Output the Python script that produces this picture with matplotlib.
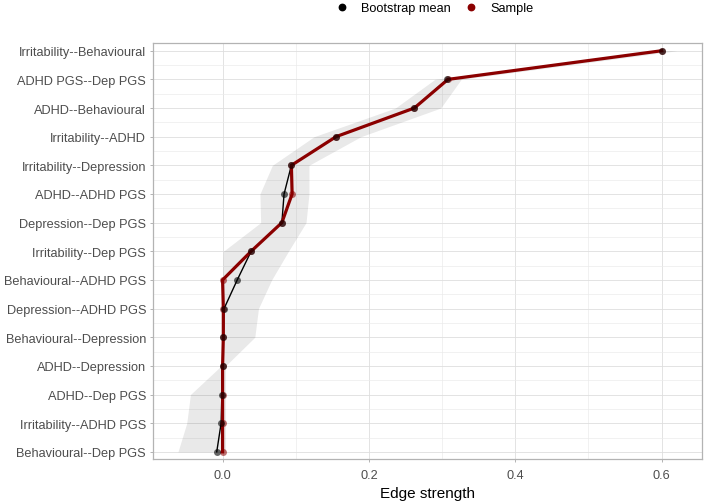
import numpy as np
import matplotlib
matplotlib.use("Agg")
import matplotlib.pyplot as plt
from matplotlib.lines import Line2D

plt.rcParams['font.family'] = ['Liberation Sans', 'DejaVu Sans']

# edges, top to bottom as in the reference
edges = ['Irritability--Behavioural', 'ADHD PGS--Dep PGS', 'ADHD--Behavioural',
         'Irritability--ADHD', 'Irritability--Depression', 'ADHD--ADHD PGS',
         'Depression--Dep PGS', 'Irritability--Dep PGS', 'Behavioural--ADHD PGS',
         'Depression--ADHD PGS', 'Behavioural--Depression', 'ADHD--Depression',
         'ADHD--Dep PGS', 'Irritability--ADHD PGS', 'Behavioural--Dep PGS']
boot_mean = [0.600, 0.307, 0.262, 0.155, 0.094, 0.084, 0.081, 0.039, 0.020,
             0.002, 0.001, 0.000, -0.001, -0.002, -0.008]
sample = [0.600, 0.308, 0.262, 0.155, 0.094, 0.095, 0.081, 0.039, 0.000,
          0.001, 0.001, 0.000, 0.000, 0.000, 0.000]
ci_lower = [0.592, 0.290, 0.236, 0.125, 0.068, 0.051, 0.052, 0.001, 0.000,
            0.000, 0.000, -0.002, -0.044, -0.049, -0.061]
ci_upper = [0.621, 0.326, 0.298, 0.189, 0.118, 0.118, 0.114, 0.090, 0.067,
            0.049, 0.044, 0.004, 0.004, 0.004, 0.004]

red = '#8B0000'
y = np.arange(len(edges))

fig = plt.figure(figsize=(7.09, 5.02), dpi=100)
ax = fig.add_axes([153 / 709, 1 - 460 / 502, 549 / 709, 416 / 502])

ax.fill_betweenx(y, ci_lower, ci_upper, color='black', alpha=0.085, lw=0, zorder=1)
ax.plot(boot_mean, y, color='black', lw=1.0, zorder=2)
ax.plot(sample, y, color=red, lw=2.3, zorder=3)
ax.plot(sample, y, 'o', color=red, ms=5.0, alpha=0.55, mew=0, zorder=4)
ax.plot(boot_mean, y, 'o', color='black', ms=5.0, alpha=0.6, mew=0, zorder=5)

lo = min(ci_lower)
hi = max(ci_upper)
pad = (hi - lo) * 0.05
ax.set_xlim(lo - pad, hi + pad)
ax.set_ylim(len(edges) - 1 + 0.25, -0.27)

ax.set_xticks([0.0, 0.2, 0.4, 0.6])
ax.set_xticklabels(['0.0', '0.2', '0.4', '0.6'])
ax.set_xticks([0.1, 0.3, 0.5], minor=True)
ax.set_yticks(y)
ax.set_yticklabels(edges)
ax.set_yticks(y[:-1] + 0.5, minor=True)

ax.grid(which='major', color='#DEDEDE', lw=0.6, zorder=0)
ax.grid(which='minor', color='#EBEBEB', lw=0.5, zorder=0)
ax.set_axisbelow(True)
for s in ax.spines.values():
    s.set_color('#B3B3B3')
    s.set_linewidth(0.9)

ax.tick_params(which='major', length=2.5, width=0.7, color='#B3B3B3',
               labelsize=9.2, labelcolor='#4D4D4D', pad=2.5)
ax.tick_params(axis='x', which='major', pad=4.5)
ax.tick_params(which='minor', length=0)
ax.set_xlabel('Edge strength', fontsize=11, labelpad=4)

handles = [Line2D([], [], marker='o', ls='', color='black', ms=4.6),
           Line2D([], [], marker='o', ls='', color=red, ms=4.6)]
fig.legend(handles, ['Bootstrap mean', 'Sample'], loc='center',
           bbox_to_anchor=(0.613, 0.982), ncol=2, frameon=False, fontsize=9.2,
           handlelength=1.0, handletextpad=1.0, columnspacing=1.1)

fig.savefig('out.png', dpi=100)
